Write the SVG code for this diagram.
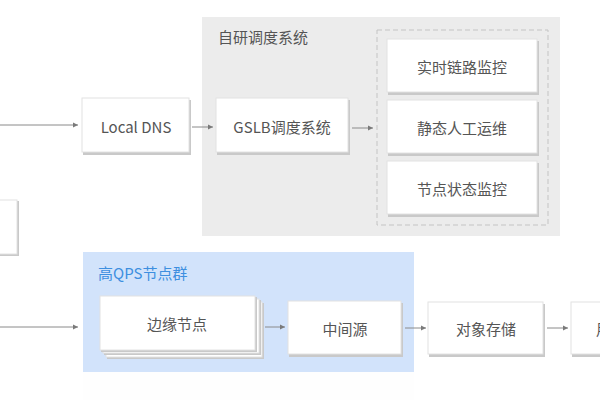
<svg xmlns="http://www.w3.org/2000/svg" width="600" height="400" viewBox="0 0 600 400">
<style>
.box{fill:#ffffff;stroke:#e2e2e2;stroke-width:1}
.sh{fill:#c9c9c9}
.t{font-family:"Noto Sans CJK SC","Liberation Sans",sans-serif;font-size:15px;fill:#555555;text-anchor:middle;dominant-baseline:central}
.title{font-family:"Noto Sans CJK SC","Liberation Sans",sans-serif;font-size:15px;fill:#555555}
.edge{stroke:#8a8a8a;stroke-width:1;fill:none;marker-end:url(#ah)}
</style>
<defs>
<marker id="ah" viewBox="0 0 6 6" refX="5" refY="3" markerWidth="6" markerHeight="6" orient="auto" markerUnits="userSpaceOnUse">
<path d="M0,0.5 L5,3 L0,5.5 Z" fill="#7a7a7a"/>
</marker>
</defs>
<rect width="600" height="400" fill="#ffffff"/>
<g id="panel-gslb">
<rect x="202" y="17" width="358" height="219" fill="#ececec"/>
<text class="title" x="218" y="43">自研调度系统</text>
<rect x="377" y="30" width="171" height="195" fill="none" stroke="#c4c4c4" stroke-dasharray="5,3"/>
</g>
<g id="panel-qps">
<rect x="83" y="252" width="331" height="120" fill="#d2e3fb"/>
<rect x="83" y="372" width="331" height="28" fill="#fefefe"/>
<text class="title" x="98" y="279" style="fill:#3d8fe0">高QPS节点群</text>
</g>
<g id="left-box">
<rect x="-2" y="201" width="21" height="55" class="sh"/>
<rect x="-2" y="200" width="19" height="54" class="box"/>
</g>
<g id="local-dns">
<rect x="83" y="100" width="108" height="55" class="sh"/>
<rect x="82" y="98" width="107" height="54" class="box"/>
<text class="t" x="136" y="126">Local DNS</text>
</g>
<g id="gslb">
<rect x="217" y="100" width="133" height="55" class="sh"/>
<rect x="216" y="98" width="132" height="54" class="box"/>
<text class="t" x="282" y="126">GSLB调度系统</text>
</g>
<g id="monitor">
<rect x="388" y="41" width="151" height="54" class="sh"/>
<rect x="387" y="39" width="150" height="53" class="box"/>
<text class="t" x="462" y="66">实时链路监控</text>
</g>
<g id="ops">
<rect x="388" y="102" width="151" height="54" class="sh"/>
<rect x="387" y="100" width="150" height="53" class="box"/>
<text class="t" x="462" y="127">静态人工运维</text>
</g>
<g id="node-monitor">
<rect x="388" y="163" width="151" height="54" class="sh"/>
<rect x="387" y="161" width="150" height="53" class="box"/>
<text class="t" x="462" y="188">节点状态监控</text>
</g>
<g id="edge-nodes">
<rect x="107" y="303" width="157" height="56" class="sh"/>
<rect x="106" y="302" width="156" height="55" class="box"/>
<rect x="104" y="300" width="157" height="55" class="sh"/>
<rect x="103" y="299" width="156" height="54" class="box"/>
<rect x="101" y="297" width="156" height="55" class="sh"/>
<rect x="100" y="296" width="155" height="54" class="box"/>
<text class="t" x="177" y="323">边缘节点</text>
</g>
<g id="mid-origin">
<rect x="289" y="303" width="114" height="54" class="sh"/>
<rect x="288" y="301" width="113" height="53" class="box"/>
<text class="t" x="345" y="328">中间源</text>
</g>
<g id="object-storage">
<rect x="429" y="304" width="116" height="53" class="sh"/>
<rect x="428" y="302" width="115" height="52" class="box"/>
<text class="t" x="486" y="328">对象存储</text>
</g>
<g id="origin">
<rect x="572" y="304" width="40" height="53" class="sh"/>
<rect x="571" y="302" width="40" height="52" class="box"/>
<text class="t" x="596" y="328" style="text-anchor:start">用户</text>
</g>
<g id="connectors">
<line class="edge" x1="0" y1="125" x2="78" y2="125"/>
<line class="edge" x1="192" y1="127" x2="213" y2="127"/>
<line class="edge" x1="352" y1="128" x2="373" y2="128"/>
<line class="edge" x1="0" y1="327" x2="78" y2="327"/>
<line class="edge" x1="265" y1="327" x2="285" y2="327"/>
<line class="edge" x1="405" y1="328" x2="426" y2="328"/>
<line class="edge" x1="547" y1="328" x2="568" y2="328"/>
</g>
</svg>
